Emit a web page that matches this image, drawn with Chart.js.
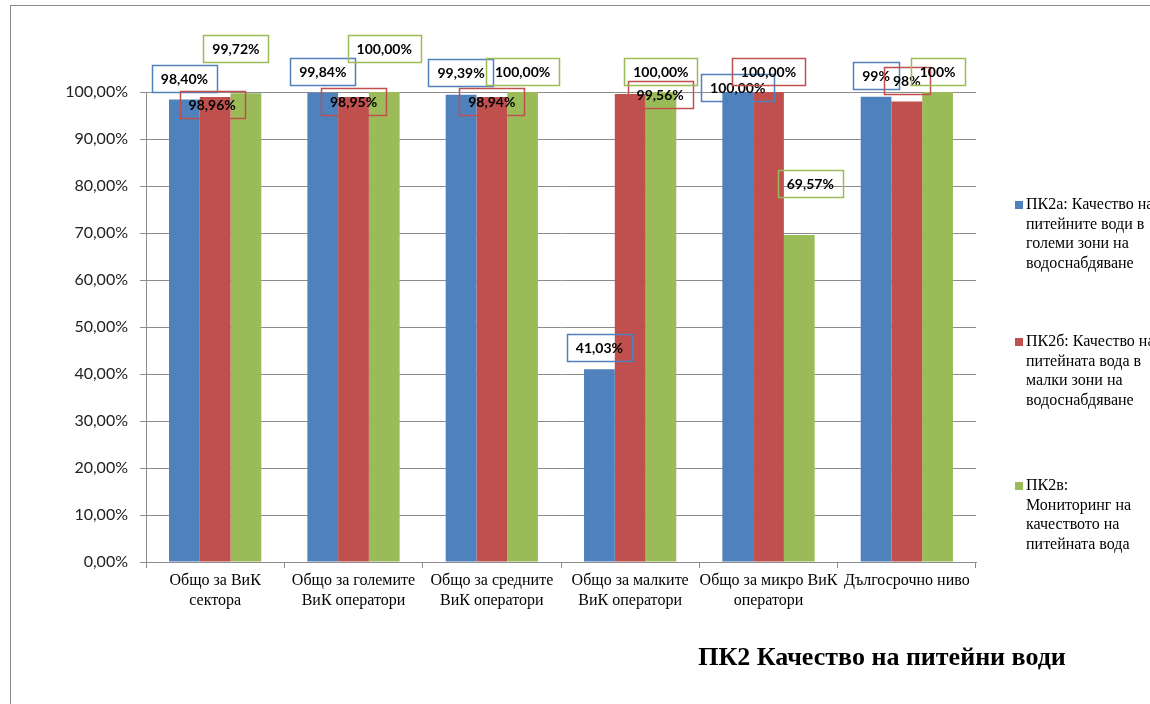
<!DOCTYPE html>
<html>
<head>
<meta charset="utf-8">
<script src="https://cdn.jsdelivr.net/npm/chart.js@4/dist/chart.umd.min.js"></script>
<style>
  body { margin: 0; background: #fff; }
  #wrap { position: absolute; left: 0; top: 0; width: 1150px; height: 704px; }
  #frame { position: absolute; left: 10px; top: 5px; width: 1200px; height: 760px; border: 1.5px solid #8c8c8c; }
  canvas { position: absolute; left: 0; top: 0; }
</style>
</head>
<body>
<div id="wrap">
  <div id="frame"></div>
  <canvas id="pk2Chart" width="1150" height="704"></canvas>
</div>
<script>
// categories (x axis)
const categories = [
  ["Общо за ВиК", "сектора"],
  ["Общо за големите", "ВиК оператори"],
  ["Общо за средните", "ВиК оператори"],
  ["Общо за малките", "ВиК оператори"],
  ["Общо за микро ВиК", "оператори"],
  "Дългосрочно ниво",
];

// series values, in percent
const pk2a = [98.40, 99.84, 99.39, 41.03, 100.00, 99];
const pk2b = [98.96, 98.95, 98.94, 99.56, 100.00, 98];
const pk2v = [99.72, 100.00, 100.00, 100.00, 69.57, 100];

// decimals shown in the data labels for each category
const labelDecimals = [2, 2, 2, 2, 2, 0];

// legend text, already wrapped like the original
const seriesNames = [
  ["ПК2а: Качество на", "питейните води в", "големи зони на", "водоснабдяване"],
  ["ПК2б: Качество на", "питейната вода в", "малки зони на", "водоснабдяване"],
  ["ПК2в:", "Мониторинг на", "качеството на", "питейната вода"],
];

const chartTitle = "ПК2 Качество на питейни води";

// y axis ticks
const yMin = 0;
const yMax = 100;
const yStep = 10;

const colors = ["#4F81BD", "#C0504D", "#9BBB59"];

// label box offsets from the top centre of each bar (moved by hand in the original)
const labelOffsets = [
  [[0, -21], [0, -21], [0, -22], [0, -22], [0, -5], [0, -21]],
  [[-3, 8], [0, 5], [0, 5], [30, 0], [0, -21], [0, -21]],
  [[-10, -45], [0, -44], [0, -21], [0, -21], [11, -52], [0, -21]],
];

const legendTop = [205, 342, 486];

const fmtPct = (v, d) => v.toFixed(d).replace(".", ",") + "%";

// draws the boxed data labels
const boxLabels = {
  id: "boxLabels",
  afterDatasetsDraw(chart) {
    const ctx = chart.ctx;
    ctx.save();
    ctx.font = "bold 14px Lato, 'Liberation Sans', sans-serif";
    ctx.textAlign = "center";
    ctx.textBaseline = "middle";
    chart.data.datasets.forEach((ds, si) => {
      chart.getDatasetMeta(si).data.forEach((bar, i) => {
        const off = labelOffsets[si][i];
        const text = fmtPct(ds.data[i], labelDecimals[i]);
        const x = bar.x + off[0];
        const y = bar.y + off[1];
        const w = ctx.measureText(text).width + 18;
        const h = 27;
        ctx.strokeStyle = colors[si];
        ctx.lineWidth = 1.5;
        ctx.strokeRect(Math.round(x - w / 2) + 0.5, Math.round(y - h / 2) + 0.5, Math.round(w), h);
        ctx.fillStyle = "#000";
        ctx.fillText(text, x, y + 1);
      });
    });
    ctx.restore();
  },
};

// legend on the right and title at the bottom
const sideLegend = {
  id: "sideLegend",
  afterDraw(chart) {
    const ctx = chart.ctx;
    ctx.save();
    ctx.font = "16px 'Liberation Serif', serif";
    ctx.textAlign = "left";
    ctx.textBaseline = "middle";
    seriesNames.forEach((lines, si) => {
      ctx.fillStyle = colors[si];
      ctx.fillRect(1015, legendTop[si] - 4, 8, 8);
      ctx.fillStyle = "#000";
      lines.forEach((line, li) => {
        ctx.fillText(line, 1026, legendTop[si] + li * 19.5);
      });
    });
    ctx.font = "bold 26px 'Liberation Serif', serif";
    ctx.textAlign = "center";
    ctx.textBaseline = "alphabetic";
    ctx.fillText(chartTitle, 882, 665);
    ctx.restore();
  },
};

const ctx = document.getElementById("pk2Chart").getContext("2d");

new Chart(ctx, {
  type: "bar",
  data: {
    labels: categories,
    datasets: [pk2a, pk2b, pk2v].map((values, si) => ({
      label: seriesNames[si].join(" "),
      data: values,
      backgroundColor: colors[si],
      borderWidth: 0,
      barPercentage: 1,
      categoryPercentage: 0.667,
    })),
  },
  options: {
    responsive: false,
    animation: false,
    layout: {
      padding: { top: 92, right: 174, bottom: 92, left: 0 },
    },
    plugins: {
      legend: { display: false },
      tooltip: { enabled: false },
    },
    scales: {
      x: {
        grid: {
          offset: true,
          drawOnChartArea: false,
          color: "#8c8c8c",
          tickLength: 6,
        },
        border: { color: "#8c8c8c" },
        ticks: {
          color: "#000",
          font: { family: "'Liberation Serif', serif", size: 16, lineHeight: 1.25 },
          maxRotation: 0,
          autoSkip: false,
          padding: 3,
        },
        afterFit(scale) {
          scale.height = 50;
        },
      },
      y: {
        min: yMin,
        max: yMax,
        grid: {
          color: "#8c8c8c",
          tickLength: 6,
        },
        border: { color: "#8c8c8c" },
        ticks: {
          stepSize: yStep,
          color: "#222",
          font: { family: "Lato, 'Liberation Sans', sans-serif", size: 16 },
          padding: 12,
          callback: (v) => fmtPct(v, 2),
        },
        afterFit(scale) {
          scale.width = 146;
        },
      },
    },
  },
  plugins: [boxLabels, sideLegend],
});
</script>
</body>
</html>
